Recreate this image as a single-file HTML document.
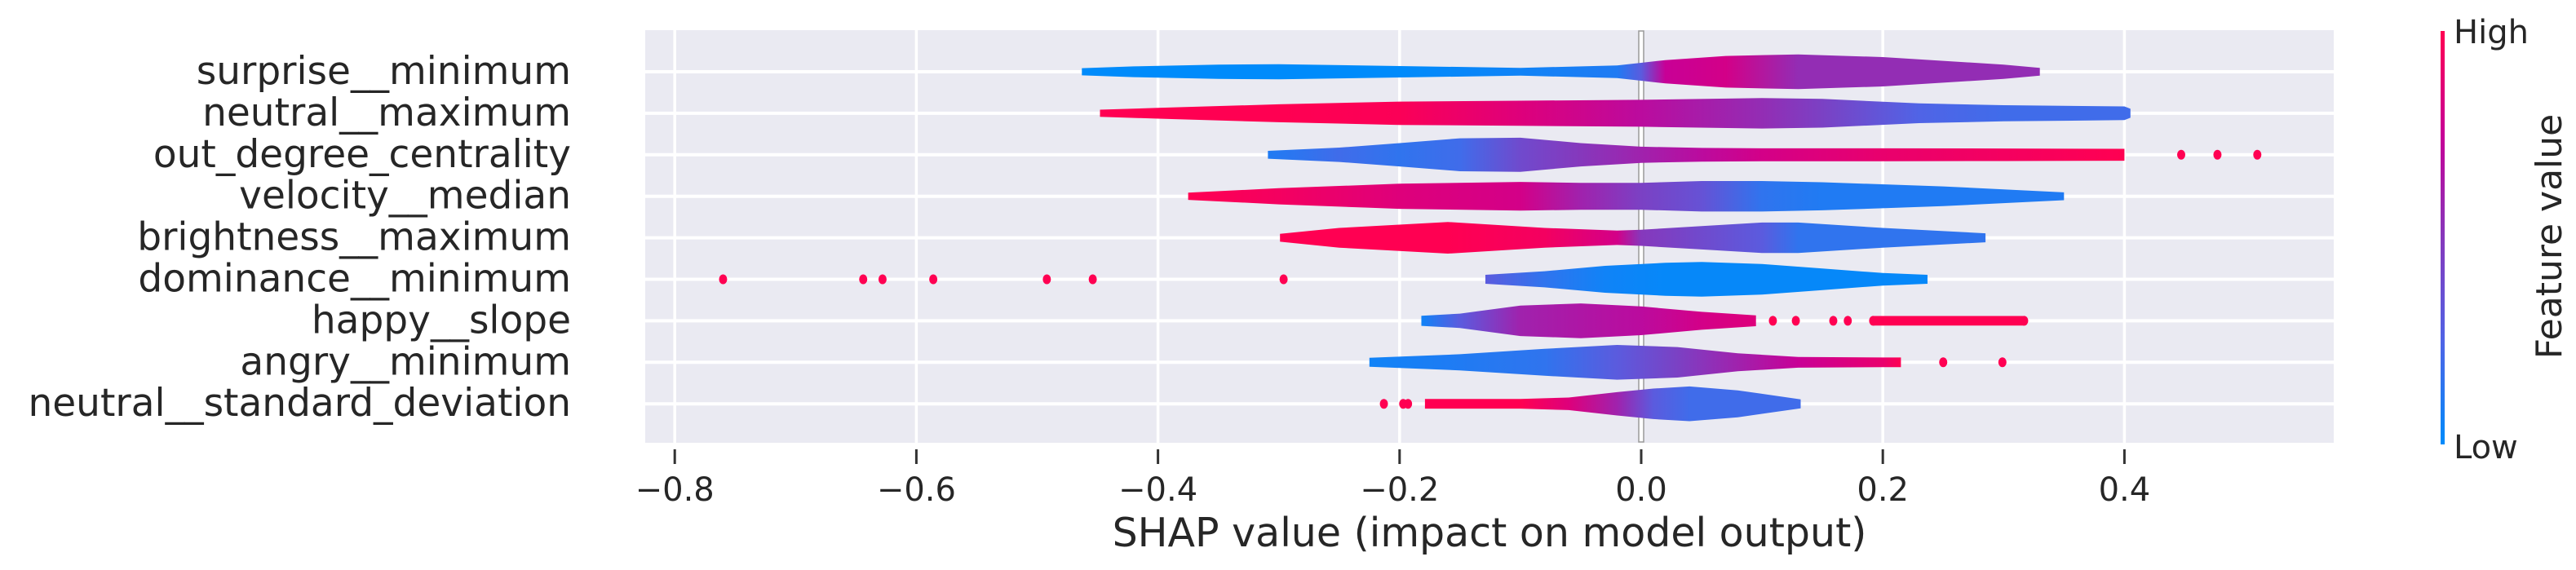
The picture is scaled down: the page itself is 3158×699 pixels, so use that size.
<!DOCTYPE html>
<html><head><meta charset="utf-8"><style>
html,body{margin:0;padding:0;background:#fff;}
svg{display:block;font-family:"DejaVu Sans","Liberation Sans",sans-serif;}
</style></head><body>
<svg id="chart" width="3158" height="699" viewBox="0 0 3158 699" xmlns="http://www.w3.org/2000/svg">
<defs id="defs"></defs>
<rect x="791" y="37" width="2070" height="506" fill="#eaeaf2"/>
<g id="grid"></g>
<g id="marks"></g>
<g id="axes"></g>
<defs><linearGradient id="cbar" x1="0" y1="1" x2="0" y2="0">
<stop offset="0" stop-color="rgb(0,139,251)"/><stop offset="0.25" stop-color="rgb(80,100,230)"/><stop offset="0.5" stop-color="rgb(134,56,188)"/><stop offset="0.75" stop-color="rgb(200,0,150)"/><stop offset="1" stop-color="rgb(255,0,82)"/></linearGradient></defs>
<rect x="2992" y="38" width="5" height="507" fill="url(#cbar)"/>
<text x="3008" y="53" font-size="40" fill="#262626">High</text>
<text x="3008" y="562" font-size="40" fill="#262626">Low</text>
<text transform="translate(3140,290) rotate(-90)" text-anchor="middle" font-size="44" fill="#262626">Feature value</text>
<text x="1826" y="670" text-anchor="middle" font-size="49" fill="#262626">SHAP value (impact on model output)</text>
</svg>
<script>
const features = ["surprise__minimum","neutral__maximum","out_degree_centrality","velocity__median","brightness__maximum","dominance__minimum","happy__slope","angry__minimum","neutral__standard_deviation"];
const xTicks = [-0.8,-0.6,-0.4,-0.2,0.0,0.2,0.4];
const xTickLabels = ["\u22120.8","\u22120.6","\u22120.4","\u22120.2","0.0","0.2","0.4"];
// violin outlines: shap value, relative density, feature value (0 low - 1 high); null splits segments
const shapValues = [
 [-0.463,-0.42,-0.35,-0.3,-0.2,-0.1,-0.02,0.0,0.02,0.07,0.13,0.2,0.3,0.33],
 [-0.448,-0.4,-0.3,-0.2,-0.1,0.0,0.1,0.15,0.23,0.3,0.4,0.405],
 [-0.309,-0.25,-0.2,-0.15,-0.1,-0.05,0.0,0.05,0.1,0.2,0.3,0.4],
 [-0.375,-0.3,-0.2,-0.1,-0.05,0.0,0.05,0.1,0.15,0.25,0.35],
 [-0.299,-0.25,-0.16,-0.08,-0.02,0.0,0.05,0.1,0.13,0.2,0.285],
 [-0.129,-0.08,-0.03,0.02,0.05,0.1,0.15,0.2,0.237],
 [-0.182,-0.15,-0.1,-0.05,0.0,0.05,0.095,null,0.192,0.317],
 [-0.225,-0.15,-0.08,-0.02,0.03,0.08,0.13,0.2,0.215],
 [-0.179,-0.1,-0.06,-0.02,0.01,0.04,0.08,0.132]
];
const densities = [
 [0.2,0.3,0.4,0.42,0.32,0.22,0.35,0.5,0.65,0.88,0.97,0.82,0.4,0.22],
 [0.2,0.3,0.5,0.65,0.7,0.75,0.85,0.8,0.55,0.45,0.38,0.25],
 [0.22,0.4,0.65,0.92,0.95,0.65,0.45,0.38,0.36,0.36,0.35,0.33],
 [0.2,0.45,0.7,0.8,0.75,0.75,0.85,0.85,0.78,0.55,0.22],
 [0.22,0.55,0.88,0.55,0.4,0.45,0.65,0.85,0.85,0.55,0.25],
 [0.25,0.45,0.75,0.92,0.97,0.85,0.6,0.35,0.25],
 [0.28,0.4,0.85,0.97,0.8,0.5,0.3,null,0.27,0.27],
 [0.25,0.45,0.75,0.97,0.85,0.5,0.3,0.27,0.27],
 [0.27,0.27,0.35,0.65,0.85,0.97,0.75,0.25]
];
const featureValues = [
 [0,0,0,0,0,0.05,0.1,0.3,0.75,0.8,0.55,0.55,0.55,0.55],
 [1,1,1,0.98,0.85,0.7,0.55,0.45,0.25,0.2,0.2,0.2],
 [0.1,0.2,0.15,0.2,0.4,0.5,0.6,0.7,0.8,0.9,0.95,1],
 [1,0.95,0.85,0.8,0.6,0.45,0.35,0.15,0.1,0.1,0.1],
 [1,1,1,0.95,0.8,0.5,0.4,0.3,0.15,0.15,0.15],
 [0.3,0.15,0.05,0.02,0.02,0.02,0.02,0.02,0.02],
 [0.05,0.3,0.6,0.65,0.7,0.8,0.85,null,1,1],
 [0.05,0.1,0.15,0.3,0.45,0.6,0.75,0.9,1],
 [1,1,0.85,0.6,0.3,0.2,0.2,0.2]
];
// outlier dots (shap values), colored high
const dotValues = [
 [],[],[0.447,0.477,0.51],[],[],
 [-0.76,-0.644,-0.628,-0.586,-0.492,-0.454,-0.296],
 [0.109,0.128,0.159,0.171,0.192,0.317],
 [0.25,0.299],
 [-0.213,-0.197,-0.193]
];
const dotFeature = [
 [],[],[1,1,1],[],[],
 [1,1,1,1,1,1,1],
 [1,1,1,1,1,1],
 [1,1],
 [1,1,1]
];

const NS="http://www.w3.org/2000/svg";
const X0=2012, XS=1481, ROW0=88, ROWSTEP=50.9, HALF=22;
const PL=791, PR=2861, PT=37, PB=543;
function xScale(v){return X0+v*XS;}
function yRow(i){return ROW0+i*ROWSTEP;}
const cstops=[[0,[0,139,251]],[0.25,[80,100,230]],[0.5,[134,56,188]],[0.75,[200,0,150]],[1,[255,0,82]]];
function cmap(t){
 for(let k=1;k<cstops.length;k++){ if(t<=cstops[k][0]){const a=cstops[k-1],b=cstops[k];const f=(t-a[0])/(b[0]-a[0]);
  return "rgb("+a[1].map((c,j)=>Math.round(c+(b[1][j]-c)*f)).join(",")+")";}}
 return "rgb(255,0,82)";
}
function mk(tag,attrs,parent){const e=document.createElementNS(NS,tag);for(const k in attrs)e.setAttribute(k,attrs[k]);parent.appendChild(e);return e;}
const grid=document.getElementById("grid"),marks=document.getElementById("marks"),axes=document.getElementById("axes"),defs=document.getElementById("defs");

xTicks.forEach((t,i)=>{
 const l=mk("line",{x1:xScale(t),x2:xScale(t),y1:PT,y2:PB,stroke:"#fff","stroke-width":3.5},grid);
 
 
 const tk=mk("line",{x1:xScale(t),x2:xScale(t),y1:551,y2:569,stroke:"#333","stroke-width":3},axes);
 
 
 const tx=mk("text",{x:xScale(t),y:614,"text-anchor":"middle","font-size":40,fill:"#262626"},axes);
 tx.textContent=xTickLabels[i];
 
 
});
features.forEach((f,i)=>{
 const l=mk("line",{x1:PL,x2:PR,y1:yRow(i),y2:yRow(i),stroke:"#fff","stroke-width":4},grid);
 
 
 const tx=mk("text",{x:700,y:yRow(i)+15,"text-anchor":"end","font-size":47,fill:"#262626"},axes);
 tx.textContent=f;
 
 
});
const zl=mk("rect",{x:X0-3,y:PT+1,width:6,height:PB-PT-2,fill:"#fff",stroke:"#999","stroke-width":1.5},grid);



let gid=0;
features.forEach((f,i)=>{
 const sv=shapValues[i],dv=densities[i],fv=featureValues[i];
 let segs=[],cur=[];
 sv.forEach((v,k)=>{ if(v===null){segs.push(cur);cur=[];} else cur.push([v,dv[k],fv[k]]); });
 segs.push(cur);
 const yc=yRow(i);
 segs.forEach(seg=>{
  if(seg.length<2)return;
  const x1=xScale(seg[0][0]),x2=xScale(seg[seg.length-1][0]);
  const g=mk("linearGradient",{id:"vg"+gid,gradientUnits:"userSpaceOnUse",x1:x1,x2:x2,y1:0,y2:0},defs);
  seg.forEach(p=>{mk("stop",{offset:((xScale(p[0])-x1)/(x2-x1)).toFixed(4),"stop-color":cmap(p[2])},g);});
  let d="M"+x1+","+(yc-seg[0][1]*HALF);
  seg.forEach(p=>{d+=" L"+xScale(p[0]).toFixed(1)+","+(yc-p[1]*HALF).toFixed(1);});
  for(let k=seg.length-1;k>=0;k--){d+=" L"+xScale(seg[k][0]).toFixed(1)+","+(yc+seg[k][1]*HALF).toFixed(1);}
  d+="Z";
  const p=mk("path",{d:d,fill:"url(#vg"+gid+")"},marks);
  
  
  gid++;
 });
 dotValues[i].forEach((v,k)=>{
  const e=mk("ellipse",{cx:xScale(v),cy:yc,rx:5,ry:6,fill:cmap(dotFeature[i][k])},marks);
  
  
 });
});
</script>
</body></html>
